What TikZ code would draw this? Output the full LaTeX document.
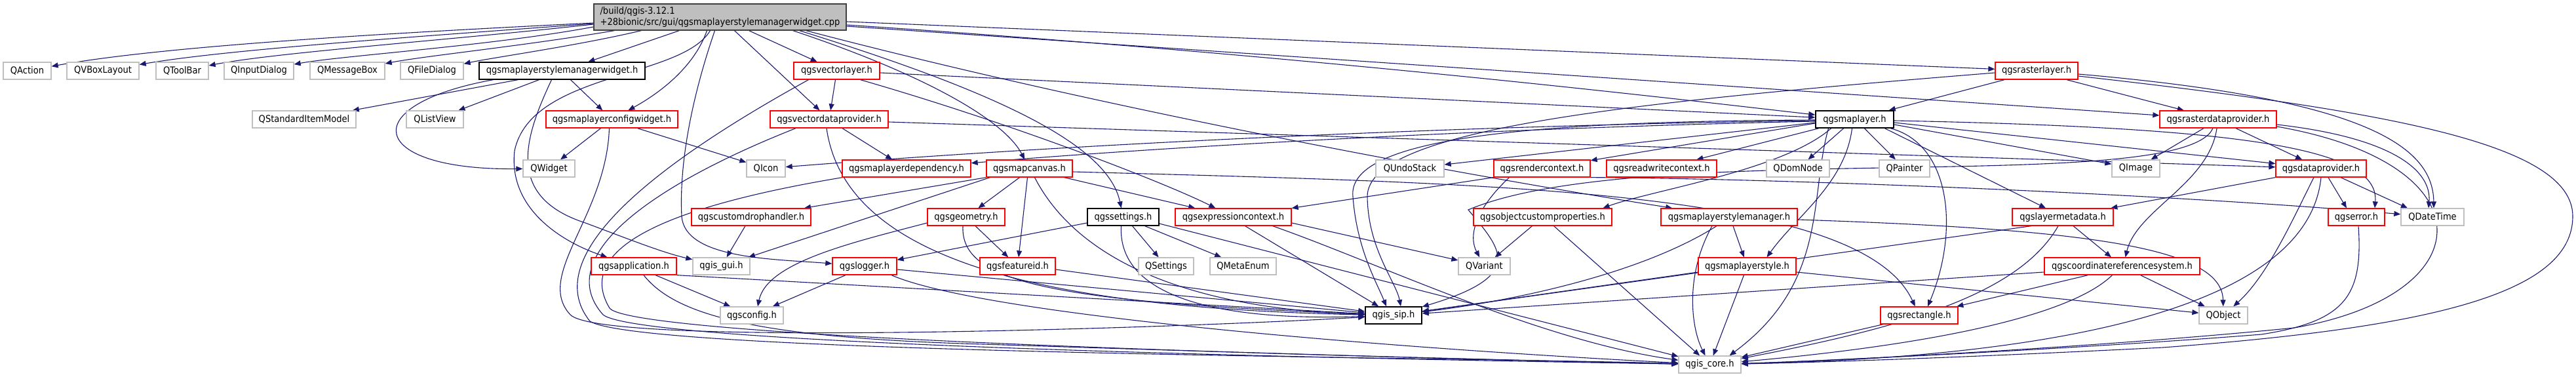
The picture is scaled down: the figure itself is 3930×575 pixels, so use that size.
\documentclass[tikz,border=0pt]{standalone}
\usepackage{fontspec}
\newfontfamily\dfont{DejaVu Sans}[FakeStretch=0.9]
\usetikzlibrary{arrows.meta}
\definecolor{edgeblue}{HTML}{191970}
\definecolor{cext}{HTML}{BFBFBF}
\definecolor{cmainfill}{HTML}{BFBFBF}
\definecolor{cmainborder}{HTML}{404040}
\definecolor{cred}{HTML}{FF0000}
\pgfdeclarelayer{bg}
\pgfsetlayers{bg,main}
\begin{document}
\begin{tikzpicture}[x=1pt,y=-1pt,
  incbox/.style={draw=#1, fill=white, line width=1.3pt, minimum height=26pt, inner sep=0pt,
    font=\dfont\fontsize{14.5pt}{17pt}\selectfont},
  ext/.style={incbox=cext},
  doc/.style={incbox=cred},
  blk/.style={incbox=black},
  edg/.style={draw=edgeblue, line width=1.1pt, -{Triangle[length=10pt,width=8pt]}},
]
\useasboundingbox (0,0) rectangle (3930,575);
% ---------- nodes ----------
\node[incbox=cmainborder, fill=cmainfill, minimum width=385pt, minimum height=40pt, align=left] (M) at (1098.5,26)
  {/build/qgis-3.12.1\\+28bionic/src/gui/qgsmaplayerstylemanagerwidget.cpp};
% row 2
\node[ext, minimum width=73pt]  (QAction) at (41.5,108) {QAction};
\node[ext, minimum width=110pt] (QVBoxLayout) at (157,108) {QVBoxLayout};
\node[ext, minimum width=80pt]  (QToolBar) at (278,108) {QToolBar};
\node[ext, minimum width=106pt] (QInputDialog) at (395,108) {QInputDialog};
\node[ext, minimum width=114pt] (QMessageBox) at (530,108) {QMessageBox};
\node[ext, minimum width=96pt]  (QFileDialog) at (659,108) {QFileDialog};
\node[blk, minimum width=253pt] (mlsmw) at (857.5,108) {qgsmaplayerstylemanagerwidget.h};
\node[doc, minimum width=131pt] (VL) at (1276.5,108) {qgsvectorlayer.h};
\node[doc, minimum width=126pt] (rasterlayer) at (3107,108) {qgsrasterlayer.h};
% row 3
\node[ext, minimum width=158pt] (QSIM) at (464,182) {QStandardItemModel};
\node[ext, minimum width=87pt]  (QListView) at (663.5,182) {QListView};
\node[doc, minimum width=201pt] (mlcw) at (933.5,182) {qgsmaplayerconfigwidget.h};
\node[doc, minimum width=180pt] (VDP) at (1265,182) {qgsvectordataprovider.h};
\node[blk, minimum width=119pt, line width=1.6pt] (maplayer) at (2829.5,182) {qgsmaplayer.h};
\node[doc, minimum width=178pt] (RDP) at (3384,182) {qgsrasterdataprovider.h};
% row 4
\node[ext, minimum width=79pt]  (QWidget) at (837.5,257) {QWidget};
\node[ext, minimum width=59pt]  (QIcon) at (1168.5,257) {QIcon};
\node[doc, minimum width=196pt] (mldep) at (1383,257) {qgsmaplayerdependency.h};
\node[doc, minimum width=131pt] (canvas) at (1570.5,257) {qgsmapcanvas.h};
\node[ext, minimum width=104pt] (QUndoStack) at (2151,257) {QUndoStack};
\node[doc, minimum width=147pt] (rendctx) at (2352.5,257) {qgsrendercontext.h};
\node[doc, minimum width=168pt] (rwctx) at (2535,257) {qgsreadwritecontext.h};
\node[ext, minimum width=96pt]  (QDomNode) at (2743,257) {QDomNode};
\node[ext, minimum width=77pt]  (QPainter) at (2905.5,257) {QPainter};
\node[ext, minimum width=73pt]  (QImage) at (3258.5,257) {QImage};
\node[doc, minimum width=138pt] (dataprov) at (3541,257) {qgsdataprovider.h};
% row 5
\node[doc, minimum width=182pt] (customdrop) at (1146,331) {qgscustomdrophandler.h};
\node[doc, minimum width=118pt] (geometry) at (1474,331) {qgsgeometry.h};
\node[blk, minimum width=109pt] (settings) at (1713.5,331) {qgssettings.h};
\node[doc, minimum width=177pt] (exprctx) at (1881.5,331) {qgsexpressioncontext.h};
\node[doc, minimum width=211pt] (objcust) at (2353.5,331) {qgsobjectcustomproperties.h};
\node[doc, minimum width=208pt] (mlsm) at (2638,331) {qgsmaplayerstylemanager.h};
\node[doc, minimum width=154pt] (laymeta) at (3147,331) {qgslayermetadata.h};
\node[doc, minimum width=86pt]  (error) at (3595,331) {qgserror.h};
\node[ext, minimum width=96pt]  (QDateTime) at (3711,331) {QDateTime};
% row 6
\node[doc, minimum width=130pt] (app) at (967,406) {qgsapplication.h};
\node[ext, minimum width=87pt]  (gui) at (1100.5,406) {qgis\_gui.h};
\node[doc, minimum width=98pt]  (logger) at (1319,406) {qgslogger.h};
\node[doc, minimum width=115pt] (featureid) at (1552.5,406) {qgsfeatureid.h};
\node[ext, minimum width=84pt]  (QSettings) at (1779,406) {QSettings};
\node[ext, minimum width=101pt] (QMetaEnum) at (1896.5,406) {QMetaEnum};
\node[ext, minimum width=79pt]  (QVariant) at (2264.5,406) {QVariant};
\node[doc, minimum width=149pt] (mlstyle) at (2665.5,406) {qgsmaplayerstyle.h};
\node[doc, minimum width=237pt] (crs) at (3237.5,406) {qgscoordinatereferencesystem.h};
% row 7
\node[ext, minimum width=96pt]  (config) at (1147,481) {qgsconfig.h};
\node[blk, minimum width=86pt, line width=1.6pt] (sip) at (2126,481) {qgis\_sip.h};
\node[doc, minimum width=118pt] (rect) at (2928,481) {qgsrectangle.h};
\node[ext, minimum width=74pt]  (QObject) at (3392,481) {QObject};
% row 8
\node[ext, minimum width=95pt]  (core) at (2608.5,556) {qgis\_core.h};

% ---------- edges ----------
\begin{pgfonlayer}{bg}
\fill[white] (0,0) rectangle (3930,575);
% main
\draw[edg] ([yshift=-9pt]M.west) .. controls (600,50) and (250,70) .. (QAction);
\draw[edg] ([yshift=-10pt]M.west) .. controls (650,55) and (350,75) .. (QVBoxLayout);
\draw[edg] ([yshift=-11pt]M.west) .. controls (700,60) and (420,80) .. (QToolBar);
\draw[edg] ([yshift=-15pt]M.west) .. controls (750,70) and (520,85) .. (QInputDialog);
\draw[edg] ([xshift=-161pt]M.south) .. controls (800,70) and (650,85) .. (QMessageBox);
\draw[edg] ([xshift=-120pt]M.south) .. controls (880,70) and (750,88) .. (QFileDialog);
\draw[edg] ([xshift=-62pt]M.south) -- (mlsmw);
\draw[edg] ([xshift=-20pt]M.south) .. controls (1060,100) and (1010,140) .. (mlcw);
\draw[edg] ([xshift=-15pt]M.south) .. controls (1040,120) and (810,110) .. (785,230) .. controls (775,320) and (860,370) .. (app);
\draw[edg] ([xshift=-8pt]M.south) .. controls (1055,150) and (1036,250) .. (1040,330) .. controls (1045,395) and (1180,395) .. (logger);
\draw[edg] ([xshift=22pt]M.south) -- (VDP);
\draw[edg] ([xshift=44pt]M.south) -- (VL);
\draw[edg] ([xshift=111pt]M.south) .. controls (1400,110) and (1530,180) .. (canvas);
\draw[edg] ([xshift=121pt]M.south) .. controls (1520,140) and (1690,220) .. (settings);
\draw[edg] ([xshift=131pt]M.south) .. controls (1700,170) and (2250,270) .. (mlsm);
\draw[edg] ([yshift=-7pt]M.east) -- (rasterlayer);
\draw[edg] ([yshift=-12pt]M.east) .. controls (2000,85) and (2550,150) .. (maplayer);
\draw[edg] ([yshift=-14pt]M.east) -- (RDP);
% mlsmw
\draw[edg] ([xshift=-105pt]mlsmw.south) .. controls (540,160) and (560,260) .. (QWidget);
\draw[edg] ([xshift=-67pt]mlsmw.south) -- (QSIM);
\draw[edg] ([xshift=-35pt]mlsmw.south) -- (QListView);
\draw[edg] ([xshift=-16pt]mlsmw.south) .. controls (800,210) and (770,300) .. (893,340) .. controls (960,365) and (1010,385) .. (gui);
\draw[edg] ([xshift=13pt]mlsmw.south) -- (mlcw);
% mlcw
\draw[edg] ([xshift=-17pt]mlcw.south) -- (QWidget);
\draw[edg] ([xshift=39pt]mlcw.south) -- (QIcon);
\draw[edg] ([xshift=-4pt]mlcw.south) .. controls (925,330) and (815,420) .. (870,480) .. controls (920,530) and (1800,500) .. (sip);
% VL
\draw[edg] ([xshift=-2pt]VL.south) -- (VDP);
\draw[edg] ([xshift=36pt]VL.south) .. controls (1550,190) and (1780,280) .. (exprctx);
\draw[edg] ([yshift=-3pt]VL.east) -- (maplayer);
\draw[edg] ([xshift=-43pt]VL.south) .. controls (1000,250) and (820,390) .. (900,490) .. controls (980,540) and (2250,545) .. (core);
% VDP
\draw[edg] ([xshift=20pt]VDP.south) -- (mldep);
\draw[edg] ([yshift=-4pt]VDP.east) -- (dataprov);
\draw[edg] ([xshift=-51pt]VDP.south) .. controls (1000,280) and (840,390) .. (920,480) .. controls (980,530) and (2250,550) .. (core);
\draw[edg] ([xshift=-4pt]VDP.south) .. controls (1290,400) and (1600,470) .. (sip);
% mldep
\draw[edg] ([xshift=-98pt]mldep.south) .. controls (1050,310) and (870,370) .. (930,470) .. controls (970,520) and (2250,548) .. (core);
% canvas
\draw[edg] ([xshift=-66pt]canvas.south) -- (customdrop);
\draw[edg] ([xshift=-60pt]canvas.south) -- (gui);
\draw[edg] ([xshift=-15pt]canvas.south) -- (geometry);
\draw[edg] ([xshift=-3pt]canvas.south) -- (featureid);
\draw[edg] ([xshift=8pt]canvas.south) .. controls (1640,390) and (1800,470) .. (sip);
\draw[edg] ([xshift=53pt]canvas.south) -- (exprctx);
\draw[edg] ([yshift=-5pt]canvas.east) .. controls (2300,280) and (2840,290) .. (rect);
% settings
\draw[edg] ([yshift=-9pt]settings.west) -- (logger);
\draw[edg] ([xshift=14pt]settings.south) -- (QSettings);
\draw[edg] ([xshift=33pt]settings.south) -- (QMetaEnum);
\draw[edg] ([xshift=-3pt]settings.south) .. controls (1705,450) and (1850,490) .. (sip);
\draw[edg] ([yshift=-10pt]settings.east) -- (core);
% exprctx
\draw[edg] ([yshift=-9pt]exprctx.east) -- (QVariant);
\draw[edg] ([xshift=18pt]exprctx.south) -- (sip);
\draw[edg] ([xshift=60pt]exprctx.south) .. controls (2100,400) and (2350,520) .. (core);
% rendctx
\draw[edg] (rendctx.south west) -- (exprctx);
\draw[edg] ([xshift=-50pt]rendctx.south) .. controls (2250,320) and (2240,360) .. (QVariant);
\draw[edg] (rendctx.south east) .. controls (2700,272) and (3300,295) .. (QDateTime);
% objcust
\draw[edg] ([xshift=-16pt]objcust.south) -- (QVariant);
\draw[edg] ([xshift=17pt]objcust.south) -- (core);
% mlsm
\draw[edg] ([xshift=-19pt]mlsm.south) .. controls (2500,420) and (2300,460) .. (sip);
\draw[edg] ([xshift=-26pt]mlsm.south) .. controls (2570,420) and (2580,500) .. (core);
\draw[edg] ([xshift=6pt]mlsm.south) -- (mlstyle);
\draw[edg] ([yshift=-4pt]mlsm.east) .. controls (3200,350) and (3390,380) .. (QObject);
% mlstyle
\draw[edg] ([yshift=-9pt]mlstyle.west) -- (sip);
\draw[edg] ([xshift=-5pt]mlstyle.south) -- (core);
\draw[edg] ([yshift=-9pt]mlstyle.east) -- (QObject);
% maplayer
\draw[edg] ([yshift=-5pt]maplayer.west) -- (QUndoStack);
\draw[edg] ([yshift=-6pt]maplayer.west) -- (rendctx);
\draw[edg] ([xshift=-55pt]maplayer.south) -- (rwctx);
\draw[edg] ([xshift=-17pt]maplayer.south) -- (QDomNode);
\draw[edg] ([xshift=15pt]maplayer.south) -- (QPainter);
\draw[edg] ([yshift=-2pt]maplayer.west) .. controls (2300,190) and (1700,215) .. (QIcon);
\draw[edg] ([yshift=-3pt]maplayer.west) .. controls (2300,195) and (1800,222) .. (mldep);
\draw[edg] ([yshift=-8pt]maplayer.east) -- (QImage);
\draw[edg] ([yshift=-5pt]maplayer.east) -- (dataprov);
\draw[edg] ([yshift=-2pt]maplayer.east) .. controls (3450,195) and (3630,230) .. ([xshift=28pt]error.north);
\draw[edg] ([xshift=46pt]maplayer.south) -- ([xshift=-26pt]laymeta.north);
\draw[edg] ([xshift=55pt]maplayer.south) .. controls (2975,220) and (2990,350) .. ([xshift=13pt]rect.north);
\draw[edg] ([xshift=-36pt]maplayer.south) .. controls (2720,260) and (2520,290) .. ([xshift=92pt]objcust.north);
\draw[edg] ([xshift=-4pt]maplayer.south) .. controls (2815,280) and (2740,330) .. ([xshift=30pt]mlstyle.north);
\draw[edg] ([xshift=-40pt]maplayer.south) .. controls (2760,300) and (2790,430) .. ([xshift=30pt]core.north);
\draw[edg] ([yshift=-1pt]maplayer.west) .. controls (2300,185) and (2055,215) .. (2064,300) .. controls (2070,380) and (2100,430) .. ([xshift=-11pt]sip.north);
% RDP
\draw[edg] ([xshift=-22pt]RDP.south) -- (QImage);
\draw[edg] ([xshift=27pt]RDP.south) -- (dataprov);
\draw[edg] ([yshift=-8pt]RDP.east) .. controls (3650,210) and (3710,260) .. ([xshift=-6pt]QDateTime.north);
\draw[edg] ([yshift=-11pt]RDP.east) .. controls (3800,250) and (3790,450) .. (3500,500) .. controls (3200,530) and (2800,550) .. (core);
\draw[edg] ([xshift=-2pt]RDP.south) .. controls (3370,280) and (3260,320) .. ([xshift=5pt]crs.north);
\draw[edg] ([xshift=-8pt]RDP.south) .. controls (3330,300) and (2500,210) .. (2240,320) .. controls (2290,380) and (2330,420) .. (sip);
% dataprov
\draw[edg] ([xshift=-11pt]dataprov.south) .. controls (3500,330) and (3460,420) .. (QObject);
\draw[edg] (dataprov.south) .. controls (3520,480) and (3100,545) .. (core);
\draw[edg] ([xshift=11pt]dataprov.south) -- ([xshift=-15pt]error.north);
\draw[edg] ([xshift=30pt]dataprov.south) -- ([xshift=-38pt]QDateTime.north);
\draw[edg] (dataprov.south west) -- (laymeta);
% error
\draw[edg] ([xshift=3pt]error.south) .. controls (3605,450) and (3580,490) .. (3450,510) .. controls (3200,530) and (2800,550) .. (core);
% laymeta
\draw[edg] ([xshift=16pt]laymeta.south) -- (crs);
\draw[edg] ([xshift=-7pt]laymeta.south) .. controls (3080,450) and (2900,500) .. (core);
\draw[edg] ([xshift=-48pt]laymeta.south) -- (sip);
% crs
\draw[edg] ([xshift=-52pt]crs.south) -- (rect);
\draw[edg] ([xshift=28pt]crs.south) -- (QObject);
\draw[edg] ([xshift=-15pt]crs.south) .. controls (3150,490) and (2900,530) .. (core);
\draw[edg] ([yshift=-9pt]crs.west) -- (sip);
% rect
\draw[edg] ([xshift=-55pt]rect.south) -- (core);
% rasterlayer
\draw[edg] ([xshift=-49pt]rasterlayer.south) -- (maplayer);
\draw[edg] ([xshift=46pt]rasterlayer.south) -- (RDP);
\draw[edg] ([yshift=-5pt]rasterlayer.east) .. controls (3600,150) and (3712,220) .. ([xshift=2pt]QDateTime.north);
\draw[edg] ([yshift=-8pt]rasterlayer.east) .. controls (3650,170) and (3925,220) .. (3925,330) .. controls (3925,450) and (3700,500) .. (3300,530) .. controls (3000,545) and (2800,552) .. (core);
\draw[edg] ([yshift=-3pt]rasterlayer.west) .. controls (2500,155) and (2085,195) .. (2086,300) .. controls (2087,380) and (2130,430) .. ([xshift=11pt]sip.north);
% app
\draw[edg] ([xshift=33pt]app.south) -- (config);
\draw[edg] (app.south east) -- (sip);
\draw[edg] ([xshift=15pt]app.south) .. controls (1030,480) and (1150,515) .. (1500,525) .. controls (1900,538) and (2300,550) .. (core);
% customdrop
\draw[edg] ([xshift=-9pt]customdrop.south) -- (gui);
% geometry
\draw[edg] ([yshift=-9pt]geometry.west) .. controls (1300,370) and (1170,400) .. ([xshift=9pt]config.north);
\draw[edg] ([xshift=14pt]geometry.south) -- (featureid);
\draw[edg] ([xshift=-5pt]geometry.south) .. controls (1465,430) and (1600,460) .. (sip);
% logger
\draw[edg] ([xshift=-29pt]logger.south) -- (config);
\draw[edg] ([yshift=-5pt]logger.east) -- (sip);
\draw[edg] ([xshift=41pt]logger.south) .. controls (1500,480) and (2100,530) .. (core);
% featureid
\draw[edg] ([yshift=-5pt]featureid.east) -- (sip);
\end{pgfonlayer}
\end{tikzpicture}
\end{document}
